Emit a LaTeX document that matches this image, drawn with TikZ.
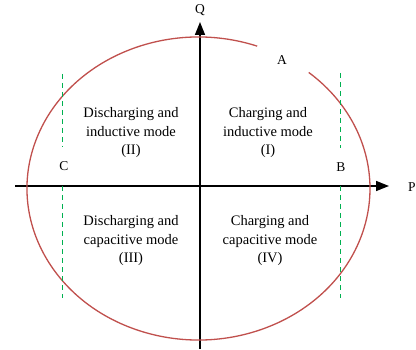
\documentclass[tikz,border=0pt]{standalone}
\usepackage{fontspec}
\setmainfont{Liberation Serif}
\usetikzlibrary{arrows.meta,positioning}
\definecolor{locus}{RGB}{192,80,77}
\definecolor{limit}{RGB}{0,176,80}

\begin{document}
\begin{tikzpicture}[x=1pt, y=1pt, axis/.style={line width=1.6pt,-{Triangle[length=13pt,width=10pt]}}, bound/.style={limit,line width=0.9pt,dash pattern=on 5pt off 4pt}, mode/.style={align=center,font=\fontsize{14.5}{18.5}\selectfont}, lbl/.style={font=\fontsize{13.5}{15}\selectfont}]
  \useasboundingbox (0,0) rectangle (416,349);
  \coordinate (O) at (198.5,160.5);
  % axes
  \coordinate (xl) at (15,163);
  \coordinate (xr) at (389,163);
  \coordinate (yb) at (200,0);
  \coordinate (yt) at (200,327);
  \draw[axis] (xl) -- (xr);
  \draw[axis] (yb) -- (yt);
  \node[lbl] (P) at (412,162) {P};
  \node[lbl] (Q) at (200,339) {Q};

  % operating circle
  \draw[locus,line width=1.3pt] (O) ++(70:171.5 and 151.5) arc[start angle=70,end angle=410,x radius=171.5,y radius=151.5];

  % limits
  \node[lbl] (A) at (282,289) {A};
  \node[lbl] (B) at (341,182) {B};
  \node[lbl] (C) at (64,183) {C};
  \coordinate (c1) at (62,275);
  \coordinate (c2) at (62,202);
  \coordinate (c3) at (62,163);
  \coordinate (c4) at (62,51);
  \coordinate (b1) at (340,276);
  \coordinate (b2) at (340,201);
  \coordinate (b3) at (340,163);
  \coordinate (b4) at (340,51);
  \draw[bound] (c1) -- (c2);
  \draw[bound] (c3) -- (c4);
  \draw[bound] (b1) -- (b2);
  \draw[bound] (b3) -- (b4);

  \node[mode] (q2) at (131,216) {Discharging and\\inductive mode\\(II)};
  \node[mode] (q1) at (268,216) {Charging and\\inductive mode\\(I)};
  \node[mode] (q3) at (131,108) {Discharging and\\capacitive mode\\(III)};
  \node[mode] (q4) at (270,108) {Charging and\\capacitive mode\\(IV)};
\end{tikzpicture}
\end{document}
